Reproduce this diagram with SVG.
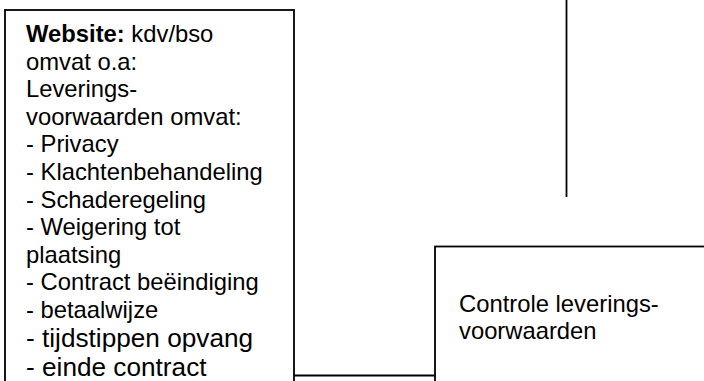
<svg xmlns="http://www.w3.org/2000/svg" width="704" height="381" viewBox="0 0 704 381">
  <style>
    .box { fill: #ffffff; stroke: #000000; stroke-width: 1.8; }
    .t { font-family: "Liberation Sans", Arial, sans-serif; font-size: 23.8px; fill: #000000; }
    .big { font-size: 26.2px; }
    .b { font-weight: bold; }
    .conn { stroke: #000000; stroke-width: 1.8; fill: none; }
  </style>
  <rect width="704" height="381" fill="#ffffff"/>
  <g id="connectors">
    <line class="conn" x1="566.5" y1="0" x2="566.5" y2="197"/>
    <line class="conn" x1="294" y1="375.5" x2="435" y2="375.5"/>
  </g>
  <g id="node-website">
    <rect class="box" x="5" y="10" width="289" height="380"/>
    <text class="t" x="26" y="42"><tspan class="b">Website:</tspan> kdv/bso</text>
    <text class="t" x="26" y="69.6">omvat o.a:</text>
    <text class="t" x="26" y="97.2">Leverings-</text>
    <text class="t" x="26" y="124.8">voorwaarden omvat:</text>
    <text class="t" x="26" y="152.4">- Privacy</text>
    <text class="t" x="26" y="180">- Klachtenbehandeling</text>
    <text class="t" x="26" y="207.6">- Schaderegeling</text>
    <text class="t" x="26" y="235.2">- Weigering tot</text>
    <text class="t" x="26" y="262.8">plaatsing</text>
    <text class="t" x="26" y="290.4">- Contract beëindiging</text>
    <text class="t" x="26" y="318">- betaalwijze</text>
    <text class="t big" x="26" y="347">- tijdstippen opvang</text>
    <text class="t big" x="26" y="376">- einde contract</text>
  </g>
  <g id="node-controle">
    <rect class="box" x="435" y="246.5" width="300" height="160"/>
    <text class="t" x="459" y="311.5">Controle leverings-</text>
    <text class="t" x="459" y="339">voorwaarden</text>
  </g>
</svg>
